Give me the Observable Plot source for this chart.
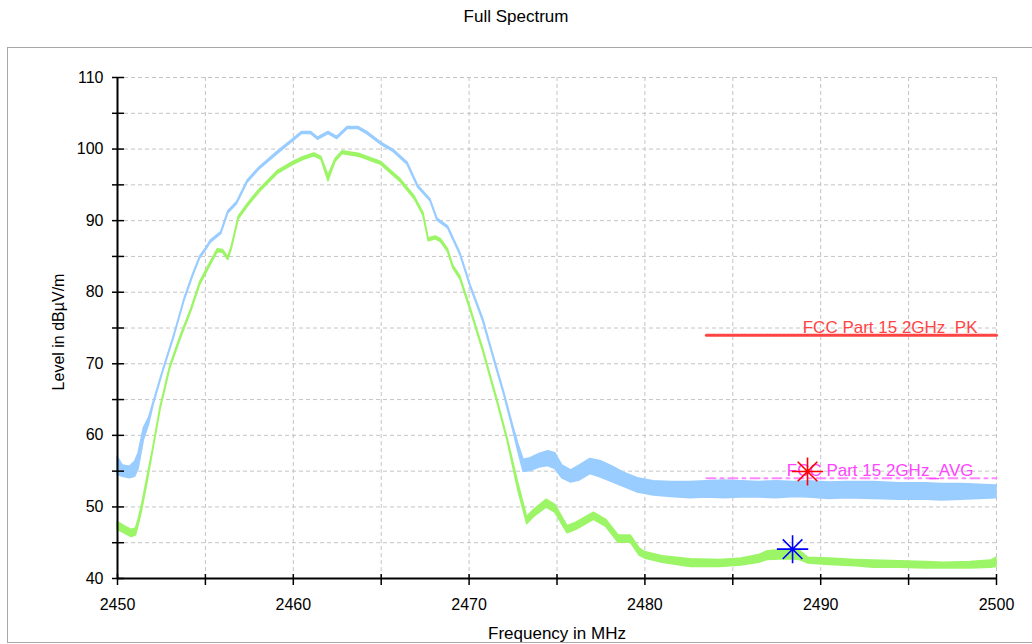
<!DOCTYPE html>
<html>
<head>
<meta charset="utf-8">
<script src="https://cdn.jsdelivr.net/npm/d3@7"></script>
<script src="https://cdn.jsdelivr.net/npm/@observablehq/plot@0.6"></script>
<style>
  html, body { margin: 0; padding: 0; background: #fff; overflow: hidden; }
  #wrap { position: relative; width: 1032px; height: 644px; font-family: "Liberation Sans", Arial, sans-serif; }
  #title { height: 40px; line-height: 33px; text-align: center; font-size: 17px; color: #000; }
  #box { position: absolute; left: 7px; top: 47px; width: 1040px; height: 596px; border: 1px solid #a8a8a8; pointer-events: none; box-sizing: border-box; }
  #chart svg { display: block; }
</style>
</head>
<body>
<div id="wrap">
  <div id="title">Full Spectrum</div>
  <div id="chart"></div>
  <div id="box"></div>
</div>
<script>
// ---- Data ----
const xDomain = [2450, 2500];
const yDomain = [40, 110];
const xTickLabels = [2450, 2460, 2470, 2480, 2490, 2500];
const xTicks = [2450, 2455, 2460, 2465, 2470, 2475, 2480, 2485, 2490, 2495, 2500];
const yTickLabels = [40, 50, 60, 70, 80, 90, 100, 110];
const yTicks = [40, 45, 50, 55, 60, 65, 70, 75, 80, 85, 90, 95, 100, 105, 110];

// Peak trace (light blue): envelope low / high, dBµV/m
const peakFreq = [2450.0, 2450.3, 2450.7, 2451.0, 2451.2, 2451.5, 2451.8, 2452.05, 2452.6, 2453.2, 2453.8, 2454.3, 2454.7, 2455.0, 2455.3, 2455.9, 2456.3, 2456.8, 2457.4, 2458.1, 2459.1, 2460.0, 2460.5, 2461.0, 2461.4, 2462.0, 2462.5, 2463.1, 2463.7, 2464.2, 2465.0, 2465.7, 2466.5, 2467.1, 2467.8, 2468.2, 2468.8, 2469.5, 2470.1, 2470.8, 2471.4, 2472.0, 2472.5, 2472.8, 2473.1, 2473.5, 2474.0, 2474.5, 2474.9, 2475.3, 2475.8, 2476.3, 2476.9, 2477.5, 2478.2, 2478.8, 2479.6, 2480.5, 2481.5, 2482.6, 2483.5, 2484.5, 2485.5, 2486.5, 2487.5, 2488.5, 2489.3, 2490.5, 2491.5, 2493.0, 2494.5, 2496.0, 2496.9, 2498.0, 2499.0, 2500.0];
const peakLo = [54.5, 54.2, 54.0, 54.2, 55.3, 59.3, 61.5, 64.2, 68.85, 73.5, 78.7, 82.2, 84.7, 85.7, 86.9, 88.1, 91.0, 92.3, 95.3, 97.2, 99.3, 101.1, 102.1, 102.1, 101.3, 102.1, 101.4, 102.8, 102.8, 102.1, 100.6, 99.6, 97.8, 94.6, 92.7, 90.0, 88.9, 85.2, 80.6, 75.9, 70.7, 65.6, 60.8, 57.7, 54.9, 55.0, 55.5, 55.7, 55.3, 54.0, 53.4, 53.7, 54.6, 54.1, 53.4, 52.8, 52.0, 51.6, 51.4, 51.2, 51.3, 51.2, 51.3, 51.3, 51.2, 51.4, 51.3, 51.1, 51.2, 51.1, 51.0, 51.0, 50.9, 51.0, 51.1, 51.2];
const peakHi = [57.0, 55.8, 55.6, 56.3, 57.5, 61.0, 62.5, 64.6, 69.15, 73.8, 79.0, 82.5, 85.0, 86.0, 87.2, 88.4, 91.3, 92.6, 95.6, 97.5, 99.6, 101.4, 102.4, 102.4, 101.6, 102.4, 101.7, 103.1, 103.1, 102.4, 100.9, 99.9, 98.1, 94.9, 93.0, 90.3, 89.2, 85.5, 80.9, 76.3, 71.1, 66.0, 61.4, 58.8, 56.6, 56.8, 57.4, 57.8, 57.5, 55.8, 55.1, 55.8, 56.7, 56.4, 55.6, 54.8, 54.0, 53.6, 53.5, 53.5, 53.6, 53.7, 53.6, 53.5, 53.6, 53.5, 53.6, 53.4, 53.5, 53.5, 53.3, 53.3, 53.2, 53.2, 53.1, 53.0];

// Average trace (light green): envelope low / high, dBµV/m
const avgFreq = [2450.0, 2450.4, 2450.8, 2451.05, 2451.2, 2451.4, 2451.7, 2452.0, 2452.45, 2453.0, 2453.6, 2454.2, 2454.7, 2455.3, 2455.7, 2456.0, 2456.3, 2456.5, 2456.9, 2457.4, 2458.1, 2459.1, 2460.0, 2460.6, 2461.2, 2461.6, 2462.0, 2462.4, 2462.8, 2463.8, 2465.0, 2466.1, 2466.9, 2467.4, 2467.7, 2468.1, 2468.4, 2468.8, 2469.1, 2469.5, 2470.1, 2470.8, 2471.6, 2472.2, 2472.8, 2473.3, 2473.7, 2474.4, 2474.9, 2475.6, 2476.1, 2477.1, 2477.8, 2478.5, 2479.2, 2479.7, 2480.0, 2481.0, 2482.6, 2484.3, 2485.5, 2486.5, 2487.0, 2488.0, 2488.8, 2489.3, 2490.5, 2492.0, 2493.0, 2494.5, 2496.0, 2497.0, 2498.5, 2499.7, 2500.0];
const avgLo = [46.8, 46.3, 45.8, 46.0, 47.4, 49.5, 53.3, 57.4, 63.6, 69.3, 73.5, 77.3, 81.0, 83.8, 85.6, 85.5, 84.5, 86.0, 90.2, 91.9, 94.0, 96.5, 97.8, 98.5, 99.0, 98.5, 95.5, 98.2, 99.3, 98.9, 97.8, 95.4, 93.0, 90.7, 87.1, 87.4, 87.0, 85.6, 83.3, 81.8, 77.3, 71.7, 64.7, 59.1, 52.3, 47.6, 48.6, 49.9, 49.2, 46.3, 46.8, 48.2, 47.2, 45.0, 45.0, 43.2, 42.8, 42.2, 41.6, 41.6, 41.8, 42.2, 42.6, 42.7, 42.6, 42.1, 41.9, 41.7, 41.5, 41.5, 41.4, 41.4, 41.4, 41.5, 41.6];
const avgHi = [47.9, 47.3, 46.8, 47.0, 48.2, 50.3, 54.1, 57.8, 64.0, 69.7, 73.9, 77.7, 81.4, 84.2, 86.0, 85.9, 84.9, 86.4, 90.6, 92.3, 94.4, 96.9, 98.2, 98.9, 99.4, 98.9, 96.3, 98.6, 99.7, 99.3, 98.2, 95.8, 93.4, 91.1, 87.5, 87.8, 87.4, 86.0, 83.7, 82.2, 77.7, 72.1, 65.1, 59.5, 53.3, 48.6, 49.6, 51.0, 50.3, 47.3, 47.8, 49.2, 48.2, 46.0, 46.0, 44.2, 43.7, 43.1, 42.7, 42.6, 42.8, 43.3, 43.8, 44.0, 43.9, 42.9, 42.8, 42.6, 42.5, 42.4, 42.3, 42.2, 42.3, 42.5, 42.9];

// Limit lines
const limitPkFreq = [2483.5, 2500];
const limitPkLevel = [74, 74];
const limitPkName = "FCC Part 15 2GHz_PK";
const limitAvgFreq = [2483.5, 2500];
const limitAvgLevel = [54, 54];
const limitAvgName = "FCC Part 15 2GHz_AVG";

// Markers
const markerFreq = [2489.25, 2488.4];
const markerLevel = [54.95, 44.1];
const markerColor = ["#ff0000", "#0000ff"];

// ---- Build tables ----
const peak = peakFreq.map((f, i) => ({f, lo: peakLo[i], hi: peakHi[i]}));
const avg = avgFreq.map((f, i) => ({f, lo: avgLo[i], hi: avgHi[i]}));
const limPk = limitPkFreq.map((f, i) => ({f, v: limitPkLevel[i]}));
const limAvg = limitAvgFreq.map((f, i) => ({f, v: limitAvgLevel[i]}));
const markers = markerFreq.map((f, i) => ({f, v: markerLevel[i], c: markerColor[i]}));

// 8-armed star symbol
const star8 = {
  draw(ctx, size) {
    const r = Math.sqrt(size / Math.PI);
    const h = r * 1.12, d = r * 0.7;
    ctx.moveTo(-h, 0); ctx.lineTo(h, 0);
    ctx.moveTo(0, -r); ctx.lineTo(0, r);
    ctx.moveTo(-d, -d); ctx.lineTo(d, d);
    ctx.moveTo(-d, d); ctx.lineTo(d, -d);
  }
};

const W = 1032, H = 604;
const mL = 117, mR = 36, mT = 37, mB = 66;
const innerW = W - mL - mR, innerH = H - mT - mB;

const chart = Plot.plot({
  width: W,
  height: H,
  marginLeft: mL,
  marginRight: mR,
  marginTop: mT,
  marginBottom: mB,
  style: {fontFamily: "'Liberation Sans', Arial, sans-serif", fontSize: "16px", color: "#000", background: "transparent"},
  x: {domain: xDomain, label: null},
  y: {domain: yDomain, label: null},
  marks: [
    Plot.gridX(xTicks, {stroke: "#c4c4c4", strokeOpacity: 1, strokeDasharray: "4,3"}),
    Plot.gridY(yTicks, {stroke: "#c4c4c4", strokeOpacity: 1, strokeDasharray: "4,3"}),
    Plot.areaY(peak, {x: "f", y1: "lo", y2: "hi", fill: "#99ccff", stroke: "#99ccff", strokeWidth: 1.5}),
    Plot.areaY(avg, {x: "f", y1: "lo", y2: "hi", fill: "#9cf566", stroke: "#9cf566", strokeWidth: 1.5}),
    Plot.line(limAvg, {x: "f", y: "v", stroke: "#ff88ff", strokeWidth: 2, strokeDasharray: "9,5,3,5"}),
    Plot.line(limPk, {x: "f", y: "v", stroke: "#ff4444", strokeWidth: 3}),
    Plot.text([limPk[limPk.length - 1]], {x: "f", y: "v", text: () => limitPkName, textAnchor: "end", lineAnchor: "bottom", dx: -19, dy: -2, fill: "#ff4444", fontSize: 17}),
    Plot.text([limAvg[limAvg.length - 1]], {x: "f", y: "v", text: () => limitAvgName, textAnchor: "end", lineAnchor: "bottom", dx: -23, dy: -2, fill: "#ff44ff", fontSize: 17}),
    Plot.dot(markers, {x: "f", y: "v", symbol: star8, r: 14, fill: "none", stroke: "c", strokeWidth: 1.6}),
    Plot.ruleY([yDomain[0]], {stroke: "#000", strokeWidth: 2}),
    Plot.ruleX([xDomain[0]], {stroke: "#000", strokeWidth: 2}),
    Plot.tickX(xTicks, {x: d => d, insetTop: innerH - 4, insetBottom: -7, stroke: "#000", strokeWidth: 1.5}),
    Plot.tickY(yTicks, {y: d => d, insetLeft: -5, insetRight: innerW - 7, stroke: "#000", strokeWidth: 1.5}),
    Plot.axisX({ticks: xTickLabels, tickSize: 0, tickPadding: 20, tickFormat: d => String(d), fontSize: 16}),
    Plot.axisY({ticks: yTickLabels, tickSize: 0, tickPadding: 14, tickFormat: d => String(d), fontSize: 16}),
    Plot.text(["Frequency in MHz"], {frameAnchor: "bottom", textAnchor: "middle", dy: 60, fontSize: 17, fill: "#000"}),
    Plot.text(["Level in dBµV/m"], {frameAnchor: "left", textAnchor: "middle", rotate: -90, dx: -59, dy: 4, fontSize: 16, fill: "#000"})
  ]
});
document.getElementById("chart").appendChild(chart);
</script>
</body>
</html>
